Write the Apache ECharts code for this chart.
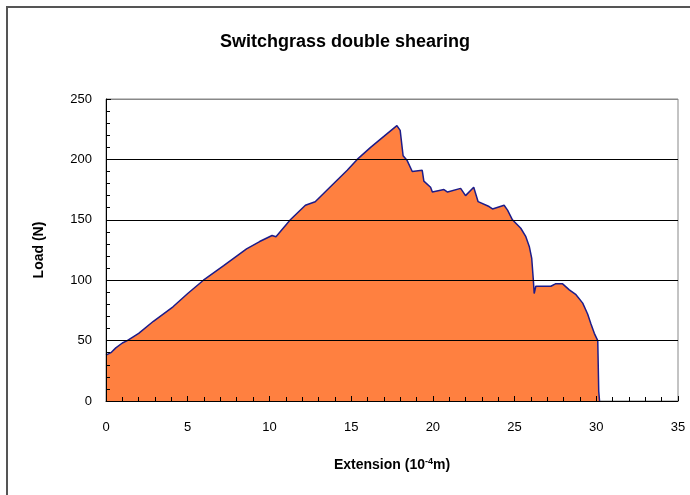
<!DOCTYPE html>
<html>
<head>
<meta charset="utf-8">
<script src="https://cdn.jsdelivr.net/npm/echarts@6/dist/echarts.min.js"></script>
<style>
  html, body { margin: 0; padding: 0; background: #fff; }
  #chart { width: 690px; height: 495px; }
</style>
</head>
<body>
<div id="chart"></div>
<script>
// extension (10^-4 m) and load (N)
const extension = [0, 0.3, 0.6, 1.0, 1.3, 2.0, 2.9, 4.1, 5.0, 5.96, 7.2, 8.6, 9.4, 10.16, 10.4, 11.28, 12.2, 12.8, 13.7, 14.76,
  15.37, 16.19, 17.0, 17.8, 18.0, 18.18, 18.43, 18.74, 19.35, 19.45, 19.86, 19.97, 20.68, 20.9, 21.7, 22.0, 22.5, 22.77,
  23.44, 23.65, 24.36, 24.57, 24.87, 25.38, 25.69, 25.9, 26.05, 26.15, 26.2, 26.3, 27.22, 27.5, 27.94, 28.35, 28.76,
  29.17, 29.47, 29.67, 29.88, 30.09, 30.15, 30.2];
const load = [38, 40, 44, 48, 50, 56, 66, 78, 89, 100, 112, 126, 132, 137, 136, 150, 162, 165, 177, 191,
  200, 210, 219, 228, 224, 203, 199, 190, 191, 182, 177, 173, 175, 173, 176, 170, 177, 165,
  161, 159, 162, 158, 150, 143, 136, 128, 118, 100, 89, 95, 95, 97, 97, 92, 88,
  81, 72, 64, 56, 50, 8, 0];

const points = extension.map((x, i) => [x, load[i]]);

const chart = echarts.init(document.getElementById('chart'));
const font = 'Liberation Sans, Arial, sans-serif';

const option = {
  animation: false,
  title: {
    text: 'Switchgrass double shearing',
    left: 340,
    textAlign: 'center',
    top: 28,
    textStyle: { fontFamily: font, fontSize: 18, fontWeight: 'bold', color: '#000' }
  },
  graphic: [{
    type: 'rect',
    shape: { x: 7, y: 7, width: 700, height: 500 },
    style: { fill: 'none', stroke: '#555', lineWidth: 2 },
    silent: true
  }],
  grid: {
    left: 106, right: 12, top: 99, bottom: 94,
    show: true, borderColor: '#888', borderWidth: 1
  },
  xAxis: {
    type: 'value',
    min: 0, max: 35, interval: 5,
    z: 5,
    name: 'Extension (10{sup|-4}m)',
    nameLocation: 'middle',
    nameGap: 56,
    nameTextStyle: {
      fontFamily: font, fontSize: 14, fontWeight: 'bold', color: '#000',
      rich: { sup: { fontFamily: font, fontSize: 9, fontWeight: 'bold', verticalAlign: 'top', padding: [0, 0, 8, 0] } }
    },
    axisLine: { lineStyle: { color: '#000', width: 1 } },
    axisTick: { inside: true, length: 5, lineStyle: { color: '#000' } },
    minorTick: { show: true, splitNumber: 5, length: 4, lineStyle: { color: '#000' } },
    axisLabel: { fontFamily: font, fontSize: 13, color: '#000', margin: 20 },
    splitLine: { show: false }
  },
  yAxis: {
    type: 'value',
    min: 0, max: 250, interval: 50,
    z: 5,
    name: 'Load (N)',
    nameLocation: 'middle',
    nameGap: 60,
    nameTextStyle: { fontFamily: font, fontSize: 14, fontWeight: 'bold', color: '#000' },
    axisLine: { show: true, lineStyle: { color: '#000', width: 1 } },
    axisTick: { inside: true, length: 5, lineStyle: { color: '#000' } },
    minorTick: { show: true, splitNumber: 5, length: 4, lineStyle: { color: '#000' } },
    axisLabel: { fontFamily: font, fontSize: 13, color: '#000', margin: 14 },
    splitLine: { show: true, lineStyle: { color: ['#000', '#000', '#000', '#000', '#000', '#888'], width: 1 } }
  },
  series: [{
    type: 'line',
    data: points,
    showSymbol: false,
    lineStyle: { color: '#1c1c8a', width: 1.5 },
    areaStyle: { color: '#ff8040', opacity: 1 },
    z: 2
  }]
};

chart.setOption(option);
</script>
</body>
</html>
